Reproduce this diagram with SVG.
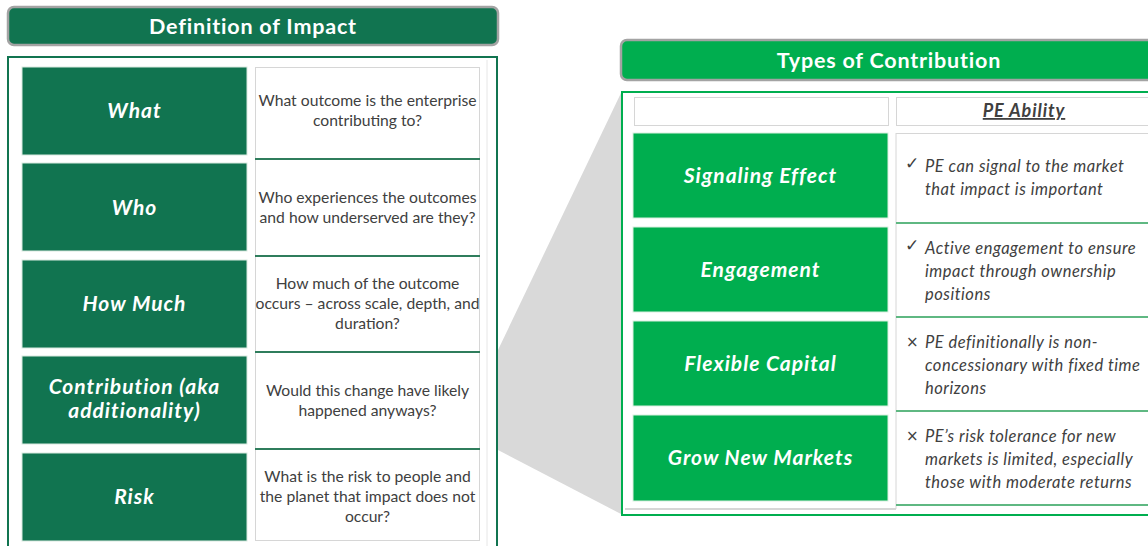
<svg xmlns="http://www.w3.org/2000/svg" width="1148" height="546" viewBox="0 0 1148 546">
  <style>
    .bar-dark { fill: #117450; stroke: #a3a3a3; stroke-width: 2.5; }
    .bar-light { fill: #00ae4f; stroke: #a3a3a3; stroke-width: 2.5; }
    .title { font-family: Lato, "Liberation Sans", sans-serif; font-weight: 700; font-size: 21.5px; letter-spacing: 0.8px; fill: #ffffff; text-anchor: middle; }
    .cell-dark { fill: #117450; stroke: #d9e9e0; stroke-width: 1; }
    .cell-light { fill: #00ae4f; stroke: #d9efe0; stroke-width: 1; }
    .cell-white { fill: #ffffff; stroke: #d6d6d6; stroke-width: 1; }
    .label { font-family: Lato, "Liberation Sans", sans-serif; font-weight: 700; font-style: italic; font-size: 21px; letter-spacing: 1px; fill: #ffffff; text-anchor: middle; }
    .question { font-family: Lato, "Liberation Sans", sans-serif; font-size: 15.7px; fill: #404040; text-anchor: middle; }
    .ability { font-family: Lato, "Liberation Sans", sans-serif; font-style: italic; font-size: 16.5px; letter-spacing: 0.5px; fill: #404040; }
    .mark { font-family: "DejaVu Sans", sans-serif; font-size: 17px; fill: #404040; }
    .cross { font-family: "DejaVu Sans", sans-serif; font-size: 15px; fill: #404040; }
    .div-dark { stroke: #2f7d5c; stroke-width: 2; }
    .div-light { stroke: #5fb882; stroke-width: 2; }
  </style>

  <!-- zoom wedge linking the Contribution row to the detail panel -->
  <g id="connectors">
    <polygon points="498,350 621,93 621,514 498,450" fill="#d9d9d9"/>
  </g>

  <!-- left panel: definition of impact -->
  <g id="definition-title">
    <rect class="bar-dark" x="8" y="7" width="490" height="38" rx="6"/>
    <text class="title" x="253" y="34">Definition of Impact</text>
  </g>
  <g id="definition-frame">
    <rect x="8" y="57" width="489" height="500" fill="#ffffff" stroke="#117450" stroke-width="2"/>
    <line x1="487" y1="60" x2="487" y2="546" stroke="#e6e6e6" stroke-width="1"/>
  </g>

  <g id="row-what">
    <rect class="cell-dark" x="22" y="67" width="225" height="88"/>
    <text class="label" x="134.5" y="118">What</text>
    <rect class="cell-white" x="255.5" y="67.5" width="224" height="91"/>
    <text class="question" x="367.5" y="106">What outcome is the enterprise</text>
    <text class="question" x="367.5" y="126">contributing to?</text>
  </g>
  <g id="row-who">
    <rect class="cell-dark" x="22" y="163" width="225" height="88"/>
    <text class="label" x="134.5" y="215">Who</text>
    <rect class="cell-white" x="255.5" y="159" width="224" height="97"/>
    <line class="div-dark" x1="255" y1="159" x2="480" y2="159"/>
    <text class="question" x="367.5" y="203">Who experiences the outcomes</text>
    <text class="question" x="367.5" y="223">and how underserved are they?</text>
  </g>
  <g id="row-how-much">
    <rect class="cell-dark" x="22" y="260" width="225" height="88"/>
    <text class="label" x="134.5" y="311">How Much</text>
    <rect class="cell-white" x="255.5" y="256" width="224" height="96"/>
    <line class="div-dark" x1="255" y1="256" x2="480" y2="256"/>
    <text class="question" x="367.5" y="289">How much of the outcome</text>
    <text class="question" x="367.5" y="309">occurs – across scale, depth, and</text>
    <text class="question" x="367.5" y="329">duration?</text>
  </g>
  <g id="row-contribution">
    <rect class="cell-dark" x="22" y="356" width="225" height="88"/>
    <text class="label" x="134.5" y="394">Contribution (aka</text>
    <text class="label" x="134.5" y="418">additionality)</text>
    <rect class="cell-white" x="255.5" y="352" width="224" height="97"/>
    <line class="div-dark" x1="255" y1="352" x2="480" y2="352"/>
    <text class="question" x="367.5" y="396">Would this change have likely</text>
    <text class="question" x="367.5" y="416">happened anyways?</text>
  </g>
  <g id="row-risk">
    <rect class="cell-dark" x="22" y="453" width="225" height="88"/>
    <text class="label" x="134.5" y="504">Risk</text>
    <rect class="cell-white" x="255.5" y="449" width="224" height="91.5"/>
    <line class="div-dark" x1="255" y1="449" x2="480" y2="449"/>
    <text class="question" x="367.5" y="482">What is the risk to people and</text>
    <text class="question" x="367.5" y="502">the planet that impact does not</text>
    <text class="question" x="367.5" y="522">occur?</text>
  </g>

  <!-- right panel: types of contribution -->
  <g id="contribution-title">
    <rect class="bar-light" x="621" y="40" width="540" height="40" rx="6"/>
    <text class="title" x="889" y="68">Types of Contribution</text>
  </g>
  <g id="contribution-frame">
    <rect x="622" y="92" width="540" height="423" fill="#ffffff" stroke="#00ae4f" stroke-width="2"/>
    <line x1="625" y1="509" x2="896" y2="509" stroke="#c8c8c8" stroke-width="1.5"/>
    <line x1="896" y1="133" x2="896" y2="509" stroke="#d6d6d6" stroke-width="1"/>
  </g>

  <g id="header-row">
    <rect class="cell-white" x="634.5" y="97.5" width="254" height="28"/>
    <rect class="cell-white" x="896.5" y="97.5" width="260" height="28"/>
    <text x="1024" y="117" font-family="Lato, 'Liberation Sans', sans-serif" font-weight="700" font-style="italic" font-size="18" letter-spacing="0.9" fill="#404040" text-anchor="middle" text-decoration="underline">PE Ability</text>
  </g>

  <g id="type-signaling">
    <rect class="cell-light" x="633" y="133" width="255" height="85"/>
    <text class="label" x="760.5" y="183">Signaling Effect</text>
    <line x1="896" y1="133.5" x2="1148" y2="133.5" stroke="#d6d6d6" stroke-width="1"/>
    <text class="mark" x="905" y="169">✓</text>
    <text class="ability" x="925" y="172">PE can signal to the market</text>
    <text class="ability" x="925" y="195">that impact is important</text>
  </g>
  <g id="type-engagement">
    <rect class="cell-light" x="633" y="227" width="255" height="85"/>
    <text class="label" x="760.5" y="277">Engagement</text>
    <line class="div-light" x1="896" y1="223" x2="1148" y2="223"/>
    <text class="mark" x="905" y="251">✓</text>
    <text class="ability" x="925" y="254">Active engagement to ensure</text>
    <text class="ability" x="925" y="277">impact through ownership</text>
    <text class="ability" x="925" y="300">positions</text>
  </g>
  <g id="type-flexible-capital">
    <rect class="cell-light" x="633" y="321" width="255" height="85"/>
    <text class="label" x="760.5" y="371">Flexible Capital</text>
    <line class="div-light" x1="896" y1="317" x2="1148" y2="317"/>
    <text class="cross" x="906" y="347">×</text>
    <text class="ability" x="925" y="348">PE definitionally is non-</text>
    <text class="ability" x="925" y="371">concessionary with fixed time</text>
    <text class="ability" x="925" y="394">horizons</text>
  </g>
  <g id="type-new-markets">
    <rect class="cell-light" x="633" y="415" width="255" height="86"/>
    <text class="label" x="760.5" y="465">Grow New Markets</text>
    <line class="div-light" x1="896" y1="411" x2="1148" y2="411"/>
    <line class="div-light" x1="896" y1="505" x2="1148" y2="505"/>
    <text class="cross" x="906" y="441">×</text>
    <text class="ability" x="925" y="442">PE’s risk tolerance for new</text>
    <text class="ability" x="925" y="465">markets is limited, especially</text>
    <text class="ability" x="925" y="488">those with moderate returns</text>
  </g>
</svg>
